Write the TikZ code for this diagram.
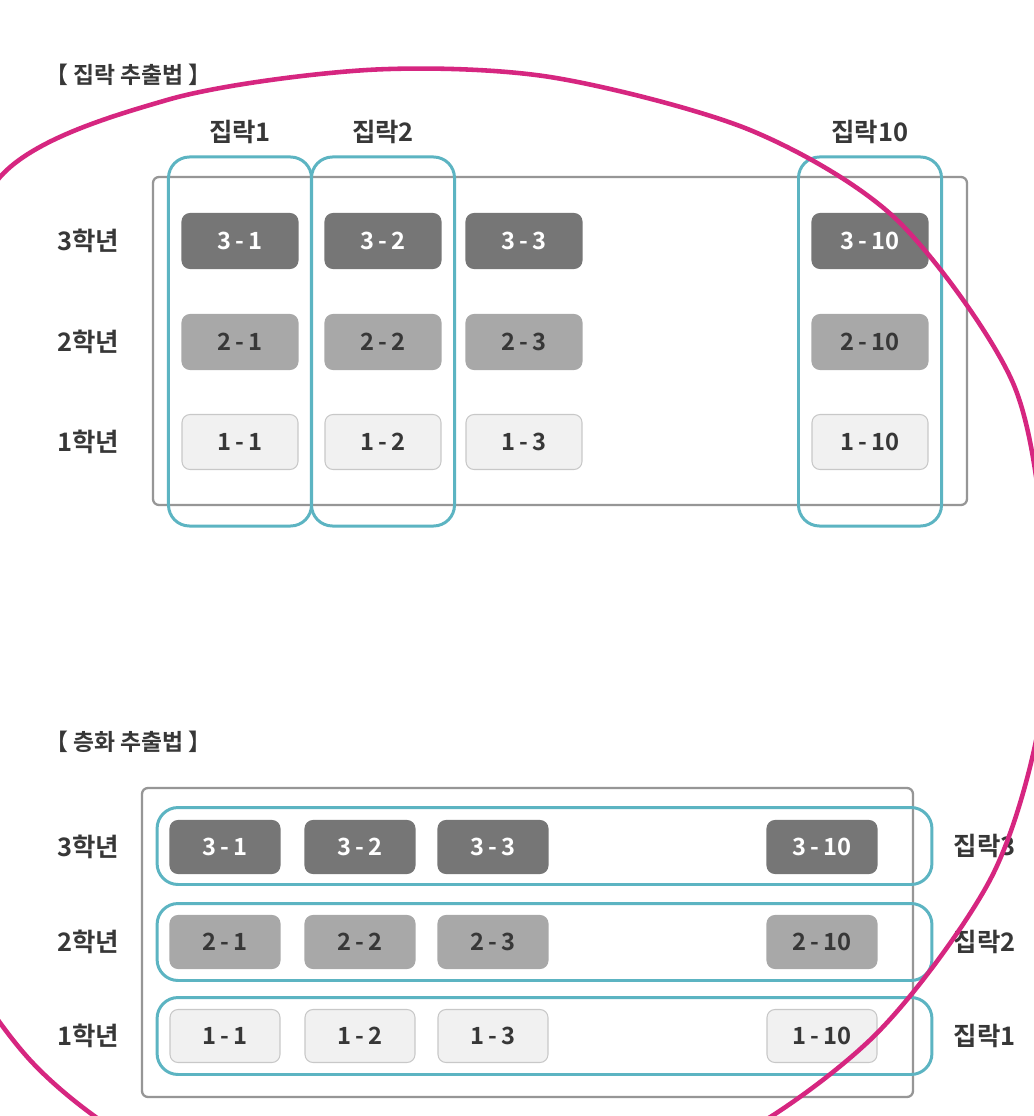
\documentclass[tikz,border=0pt]{standalone}
\usepackage{fontspec}
\setmainfont{Noto Sans CJK KR}[BoldFont={Noto Sans CJK KR Bold}]
\usetikzlibrary{positioning,fit}

\definecolor{inkgray}{RGB}{55,55,55}
\definecolor{framegray}{RGB}{150,150,150}
\definecolor{clusterline}{RGB}{92,180,194}
\definecolor{gradethree}{RGB}{118,118,118}
\definecolor{gradetwo}{RGB}{168,168,168}
\definecolor{gradeone}{RGB}{241,241,241}
\definecolor{gradeoneline}{RGB}{200,200,200}
\definecolor{markpink}{RGB}{214,38,128}

\tikzset{
  title/.style={anchor=west,inner sep=0,text=inkgray,font=\fontsize{13}{15}\selectfont\bfseries},
  rowlabel/.style={inner sep=0,text=inkgray,font=\fontsize{14.5}{17}\selectfont\bfseries},
  head/.style={inner sep=0,text=inkgray,font=\fontsize{14.5}{17}\selectfont\bfseries},
  cls/.style={rounded corners=0.16cm,line width=0.6pt,font=\fontsize{13.5}{16}\selectfont\bfseries},
  frame/.style={draw=framegray,line width=1.3pt,rounded corners=0.12cm},
  cluster/.style={draw=clusterline,line width=1.7pt,rounded corners=0.42cm},
}

\begin{document}
\begin{tikzpicture}[x=0.02cm,y=-0.02cm]
    \useasboundingbox[fill=white] (0,0) rectangle (1034,1116);

    % cluster sampling
    \node[title] (ttitle) at (45,75) {【 집락 추출법 】};
    \draw[frame] (153,177) rectangle (967,505);
    \foreach \c/\x in {1/240,2/383,3/524,10/870}
      \foreach \r/\y/\fc/\dc/\tc in {3/241/gradethree/gradethree/white,2/342/gradetwo/gradetwo/inkgray,1/442/gradeone/gradeoneline/inkgray}
        \node[cls,fill=\fc,draw=\dc,text=\tc,minimum width=2.32cm,minimum height=1.1cm] (t\r-\c) at (\x,\y) {\r\,-\,\c};
    \node[rowlabel,left=1.24cm of t3-1] (tl3) {3학년};
    \node[rowlabel,left=1.24cm of t2-1] (tl2) {2학년};
    \node[rowlabel,left=1.24cm of t1-1] (tl1) {1학년};
    \foreach \c in {1,2,10}{
      \node[cluster,fit=(t3-\c)(t1-\c),inner xsep=0.26cm,inner ysep=1.12cm] (col\c) {};
      \node[head,above=0.22cm of col\c] (h\c) {집락\c};
    }

    % stratified sampling
    \node[title] (btitle) at (45,742) {【 층화 추출법 】};
    \draw[frame] (142,788) rectangle (913,1097);
    \foreach \c/\x in {1/225,2/360,3/493,10/822}
      \foreach \r/\y/\fc/\dc/\tc in {3/847/gradethree/gradethree/white,2/942/gradetwo/gradetwo/inkgray,1/1036/gradeone/gradeoneline/inkgray}
        \node[cls,fill=\fc,draw=\dc,text=\tc,minimum width=2.2cm,minimum height=1.06cm] (b\r-\c) at (\x,\y) {\r\,-\,\c};
    \foreach \r/\y in {3/846,2/942,1/1036}{
      \node[rowlabel,left=1.0cm of b\r-1] (bl\r) {\r{}학년};
      \node[cluster,minimum width=15.5cm,minimum height=1.54cm] (row\r) at (544.5,\y) {};
      \node[head,right=0.4cm of row\r] (s\r) {집락\r{}};
    }

    % hand-drawn mark
    \begin{scope}
      \clip (0,0) rectangle (1034,1116);
      \draw[markpink,line width=2.6pt] plot[smooth cycle] coordinates {
        (0,177) (167,100) (367,70) (550,77) (750,130) (897,220) (1013,383)
        (1045,560) (1040,720) (990,880) (870,1040) (700,1155) (450,1215)
        (200,1175) (30,1060) (-90,860) (-120,620) (-80,380)};
    \end{scope}
  \end{tikzpicture}
\end{document}
